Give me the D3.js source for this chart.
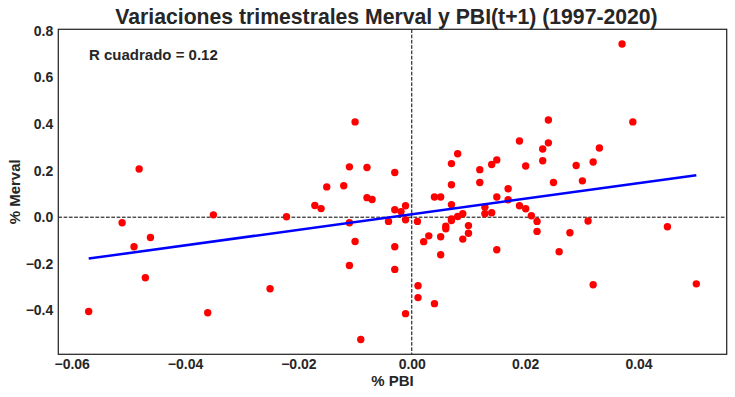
<!DOCTYPE html>
<html>
<head>
<meta charset="utf-8">
<script src="https://cdn.jsdelivr.net/npm/d3@7"></script>
<style>
  body { margin: 0; background: #fff; }
  text { font-family: "Liberation Sans", Arial, sans-serif; font-weight: bold; fill: #262626; }
</style>
</head>
<body>
<script>
// Variacion trimestral del PBI (t+1) vs variacion del Merval
var pbi = [
  -0.0570, -0.0511, -0.0490, -0.0481, -0.0470, -0.0461, -0.0360, -0.0350, -0.0250, -0.0221,
  -0.0171, -0.0160, -0.0150, -0.0120, -0.0110, -0.0110, -0.0110, -0.0100, -0.0100, -0.0090,
  -0.0079, -0.0079, -0.0070, -0.0041, -0.0030, -0.0030, -0.0030, -0.0030, -0.0019, -0.0011,
  -0.0011, -0.0011, 0.0010, 0.0011, 0.0011, 0.0021, 0.0030, 0.0040, 0.0040, 0.0051,
  0.0051, 0.0051, 0.0060, 0.0060, 0.0070, 0.0070, 0.0070, 0.0070, 0.0070, 0.0081,
  0.0081, 0.0090, 0.0090, 0.0100, 0.0100, 0.0120, 0.0120, 0.0129, 0.0129, 0.0141,
  0.0141, 0.0150, 0.0150, 0.0150, 0.0170, 0.0170, 0.0190, 0.0190, 0.0201, 0.0201,
  0.0211, 0.0221, 0.0221, 0.0231, 0.0231, 0.0241, 0.0241, 0.0250, 0.0260, 0.0279,
  0.0290, 0.0301, 0.0311, 0.0320, 0.0320, 0.0331, 0.0371, 0.0390, 0.0451, 0.0502
];
var merval = [
  -0.405, -0.024, -0.127, 0.207, -0.260, -0.087, -0.410, 0.010, -0.307, 0.002,
  0.050, 0.037, 0.130, 0.135, 0.216, -0.024, -0.207, 0.409, -0.104, -0.525,
  0.213, 0.084, 0.076, -0.018, 0.192, 0.032, -0.127, -0.224, 0.024, 0.049,
  -0.011, -0.414, -0.018, -0.294, -0.345, -0.105, -0.080, 0.087, -0.371, 0.087,
  -0.084, -0.161, -0.039, -0.050, 0.230, 0.139, 0.054, -0.007, -0.014, 0.272,
  0.003, 0.015, -0.094, -0.036, -0.069, 0.204, 0.149, 0.043, 0.015, 0.226,
  0.019, 0.246, 0.087, -0.140, 0.122, 0.075, 0.327, 0.049, 0.220, 0.036,
  0.006, -0.018, -0.061, 0.293, 0.242, 0.417, 0.319, 0.149, -0.148, -0.067,
  0.222, 0.156, -0.016, 0.237, -0.290, 0.297, 0.743, 0.409, -0.041, -0.286
];

// recta de regresion
var slope = 3.34;
var intercept = 0.0127;
var rSquared = 0.12;

var xTicks = [-0.06, -0.04, -0.02, 0, 0.02, 0.04];
var yTicks = [-0.4, -0.2, 0, 0.2, 0.4, 0.6, 0.8];

var svgWidth = 735;
var svgHeight = 397;
var margin = { top: 29.3, right: 8.3, bottom: 42.7, left: 58.3 };
var width = svgWidth - margin.left - margin.right;
var height = svgHeight - margin.top - margin.bottom;

var data = pbi.map((x, i) => ({ x: x, y: merval[i] }));

var svg = d3.select("body").append("svg")
  .attr("width", svgWidth)
  .attr("height", svgHeight);

var chart = svg.append("g")
  .attr("transform", `translate(${margin.left},${margin.top})`);

// limites con margen del 5% como matplotlib
function padded(ext) {
  var d = (ext[1] - ext[0]) * 0.05;
  return [ext[0] - d, ext[1] + d];
}
var xExt = d3.extent(pbi);
var xScale = d3.scaleLinear().domain(padded(xExt)).range([0, width]);
var yScale = d3.scaleLinear().domain(padded(d3.extent(merval))).range([height, 0]);

// ejes
var xAxis = chart.append("g")
  .attr("transform", `translate(0,${height})`)
  .call(d3.axisBottom(xScale).tickValues(xTicks).tickFormat(d3.format(".2f")).tickSize(0).tickPadding(5));
var yAxis = chart.append("g")
  .call(d3.axisLeft(yScale).tickValues(yTicks).tickFormat(d3.format(".1f")).tickSize(0).tickPadding(5));
[xAxis, yAxis].forEach(a => {
  a.select(".domain").remove();
  a.selectAll("text").style("font-size", "14px").attr("fill", "#262626");
});

// lineas de referencia en cero
chart.append("line")
  .attr("x1", xScale(0)).attr("x2", xScale(0))
  .attr("y1", 0).attr("y2", height)
  .attr("stroke", "#000").attr("stroke-width", 1).attr("stroke-dasharray", "3.7,1.6");
chart.append("line")
  .attr("x1", 0).attr("x2", width)
  .attr("y1", yScale(0)).attr("y2", yScale(0))
  .attr("stroke", "#000").attr("stroke-width", 1).attr("stroke-dasharray", "3.7,1.6");

// puntos
chart.selectAll("circle")
  .data(data)
  .enter()
  .append("circle")
  .attr("cx", d => xScale(d.x))
  .attr("cy", d => yScale(d.y))
  .attr("r", 3.7)
  .attr("fill", "#ff0000");

// regresion
var line = d3.line().x(d => xScale(d)).y(d => yScale(intercept + slope * d));
chart.append("path")
  .datum(xExt)
  .attr("d", line)
  .attr("fill", "none")
  .attr("stroke", "#0000ff")
  .attr("stroke-width", 2.5);

// marco
chart.append("rect")
  .attr("width", width).attr("height", height)
  .attr("fill", "none").attr("stroke", "#262626").attr("stroke-width", 1.25);

chart.append("text")
  .attr("x", 30.7).attr("y", 30.7)
  .style("font-size", "15px")
  .text("R cuadrado = " + rSquared.toFixed(2));

svg.append("text")
  .attr("x", margin.left + width / 2 - 6).attr("y", 23.5)
  .attr("text-anchor", "middle")
  .style("font-size", "21.2px")
  .text("Variaciones trimestrales Merval y PBI(t+1) (1997-2020)");

svg.append("text")
  .attr("x", margin.left + width / 2).attr("y", 386)
  .attr("text-anchor", "middle")
  .style("font-size", "15px")
  .text("% PBI");

svg.append("text")
  .attr("transform", `translate(20,${margin.top + height / 2}) rotate(-90)`)
  .attr("text-anchor", "middle")
  .style("font-size", "15px")
  .text("% Merval");
</script>
</body>
</html>
